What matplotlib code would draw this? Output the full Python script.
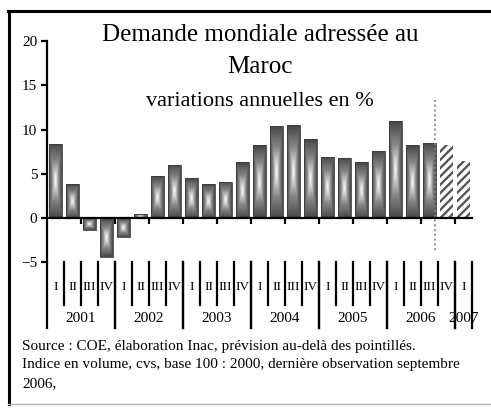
import numpy as np
import matplotlib
matplotlib.use('Agg')
import matplotlib.pyplot as plt
from matplotlib.lines import Line2D
from matplotlib.colors import LinearSegmentedColormap
import matplotlib.transforms as mtransforms

# data: quarterly variations, 2001 Q1 .. 2007 Q1
years = ['2001', '2002', '2003', '2004', '2005', '2006', '2007']
quarters_per_year = [4, 4, 4, 4, 4, 4, 1]
quarter_names = ['I', 'II', 'III', 'IV']
values = [8.4, 3.8, -1.35, -4.4, -2.1, 0.45, 4.7, 6.0, 4.5, 3.8, 4.1, 6.3,
          8.2, 10.4, 10.5, 8.9, 6.9, 6.8, 6.3, 7.6, 10.95, 8.2, 8.5, 8.2, 6.5]
n_observed = 23  # last observation: 2006 Q3, the rest is forecast

W, H = 491, 411
plt.rcParams['font.family'] = 'Liberation Serif'
plt.rcParams['hatch.linewidth'] = 1.7
fig = plt.figure(figsize=(W / 100, H / 100), dpi=100)

def fx(x):
    return x / W

def fy(y):
    return 1 - y / H

ax = fig.add_axes([fx(47), fy(262.3), fx(472) - fx(47), fy(41) - fy(262.3)])
n = len(values)
ax.set_xlim(-0.5, n - 0.5)
ax.set_ylim(-5, 20)

cmap = LinearSegmentedColormap.from_list('grad', ['#454545', '#858585', '#ffffff'])
u = np.linspace(-1, 1, 60)
uu, vv = np.meshgrid(u, u)
grad = 1 - np.maximum(np.abs(uu), np.abs(vv))
grad = grad ** 0.9

bw = 0.76
bars = ax.bar(range(n), values, width=bw, color='none', edgecolor='#3c3c3c',
              linewidth=0.6, zorder=3)
for i, b in enumerate(bars):
    x0, y0 = b.get_x(), b.get_y()
    w, h = b.get_width(), b.get_height()
    if i < n_observed:
        im = ax.imshow(grad, cmap=cmap, extent=[x0, x0 + w, min(y0, y0 + h), max(y0, y0 + h)],
                       aspect='auto', zorder=2, vmin=0, vmax=1, interpolation='bilinear')
        im.set_clip_path(b)
    else:
        b.set_facecolor('white')
        b.set_hatch('////')
        b.set_edgecolor('#555555')
        b.set_linewidth(0)

# axes styling
for s in ['top', 'right']:
    ax.spines[s].set_visible(False)
ax.spines['bottom'].set_position(('data', 0))
ax.spines['bottom'].set_linewidth(1.6)
ax.spines['left'].set_linewidth(1.6)
ax.spines['bottom'].set_zorder(4)
ax.set_yticks([-5, 0, 5, 10, 15, 20])
ax.tick_params(axis='y', direction='out', length=4, width=1.6, labelsize=11, pad=3)
ax.set_xticks(np.arange(1.5, n - 1, 2))
ax.set_xticklabels([])
ax.tick_params(axis='x', direction='out', length=4, width=1.6)

# forecast separator
ax.plot([22.32, 22.32], [13.3, -3.8], color='#808080', linestyle=':', linewidth=1.3, zorder=5)

# category labels (two levels)
tr = mtransforms.blended_transform_factory(ax.transData, fig.transFigure)
idx = 0
for yr, nq in zip(years, quarters_per_year):
    start = idx
    for q in range(nq):
        ax.text(idx, fy(287), quarter_names[q], transform=tr, ha='center', va='center',
                fontsize=9.5)
        if q > 0:
            fig.add_artist(Line2D([idx - 0.5, idx - 0.5], [fy(262), fy(305)], transform=tr,
                                  color='black', linewidth=1.6))
        idx += 1
    ax.text((start + idx - 1) / 2, fy(318), yr, transform=tr, ha='center', va='center',
            fontsize=11)
    for xb in [start - 0.5, idx - 0.5]:
        fig.add_artist(Line2D([xb, xb], [fy(262), fy(328)], transform=tr,
                              color='black', linewidth=1.6))

# title
fig.text(fx(260), fy(35), 'Demande mondiale adressée au', ha='center', va='center', fontsize=18)
fig.text(fx(260), fy(67), 'Maroc', ha='center', va='center', fontsize=18)
fig.text(fx(260), fy(101), 'variations annuelles en %', ha='center', va='center', fontsize=16)

# source notes
notes = ['Source : COE, élaboration Inac, prévision au-delà des pointillés.',
         'Indice en volume, cvs, base 100 : 2000, dernière observation septembre',
         '2006,']
for k, line in enumerate(notes):
    fig.text(fx(22), fy(346 + 18.7 * k), line, ha='left', va='center', fontsize=11)

# frame
fig.add_artist(Line2D([fx(9), fx(9)], [fy(11), fy(404)], color='black', linewidth=2.2))
fig.add_artist(Line2D([fx(8), fx(491)], [fy(11), fy(11)], color='black', linewidth=2.2))
fig.add_artist(Line2D([fx(8), fx(491)], [fy(404), fy(404)], color='#b0b0b0', linewidth=1))

fig.savefig('out.png', dpi=100)
